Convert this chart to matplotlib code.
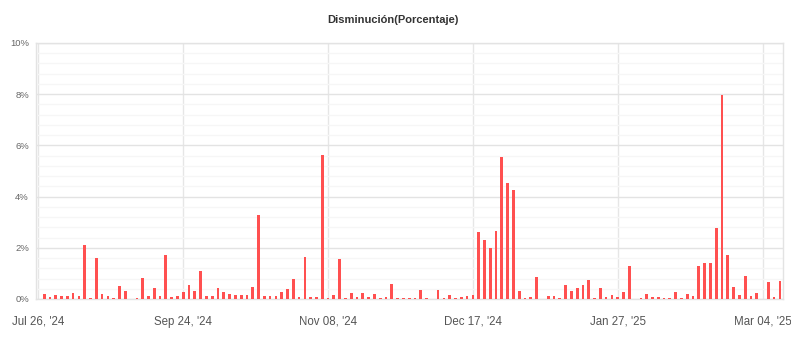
import matplotlib
matplotlib.use("Agg")
import matplotlib.pyplot as plt
import numpy as np

# Daily decrease values (percent), one per category
values = [
    0.00, 0.20, 0.08, 0.16, 0.12, 0.12, 0.23, 0.12, 2.11, 0.04,
    1.60, 0.20, 0.12, 0.04, 0.51, 0.31, 0.00, 0.04, 0.82, 0.12,
    0.43, 0.12, 1.72, 0.08, 0.12, 0.27, 0.55, 0.31, 1.09, 0.12,
    0.12, 0.43, 0.27, 0.20, 0.16, 0.16, 0.16, 0.47, 3.28, 0.12,
    0.12, 0.12, 0.27, 0.39, 0.78, 0.08, 1.64, 0.08, 0.08, 5.63,
    0.04, 0.16, 1.56, 0.04, 0.23, 0.08, 0.23, 0.08, 0.20, 0.04,
    0.08, 0.59, 0.04, 0.04, 0.04, 0.04, 0.35, 0.04, 0.00, 0.35,
    0.04, 0.16, 0.04, 0.08, 0.12, 0.16, 2.62, 2.32, 2.00, 2.67,
    5.55, 4.54, 4.27, 0.31, 0.04, 0.08, 0.87, 0.00, 0.12, 0.12,
    0.04, 0.55, 0.31, 0.43, 0.55, 0.74, 0.04, 0.43, 0.08, 0.16,
    0.08, 0.27, 1.29, 0.00, 0.04, 0.20, 0.08, 0.08, 0.04, 0.04,
    0.27, 0.04, 0.20, 0.12, 1.29, 1.41, 1.41, 2.77, 7.97, 1.72,
    0.47, 0.16, 0.90, 0.12, 0.23, 0.00, 0.66, 0.08, 0.70,
]
tick_labels = ["Jul 26, '24", "Sep 24, '24", "Nov 08, '24",
               "Dec 17, '24", "Jan 27, '25", "Mar 04, '25"]
label_step = 25
y_ticks = [0, 2, 4, 6, 8, 10]
title = "Disminución(Porcentaje)"

plt.rcParams['font.family'] = ['Liberation Sans', 'DejaVu Sans']

W, H = 791, 352
fig = plt.figure(figsize=(W / 100, H / 100), dpi=100)
left_px, right_px, top_px, bot_px = 36, 782.7, 43, 299
ax = fig.add_axes([left_px / W, 1 - bot_px / H,
                   (right_px - left_px) / W, (bot_px - top_px) / H])

x = np.arange(len(values))
ax.bar(x, values, width=0.47, color='#ff5050', zorder=3)

ax.set_xlim(-0.41, 128.48)
ax.set_ylim(0, 10)

ax.set_yticks(y_ticks)
ax.set_yticklabels([f"{t}%" for t in y_ticks])
ax.set_yticks(np.arange(0, 10.01, 0.4), minor=True)

ax.set_xticks(x[::label_step][:len(tick_labels)])
ax.set_xticklabels(tick_labels)

ax.grid(axis='y', which='major', color='#e3e3e3', lw=1, zorder=0)
ax.grid(axis='y', which='minor', color='#f6f6f6', lw=1, zorder=0)
ax.grid(axis='x', which='major', color='#e6e6e6', lw=1, zorder=0)

for s in ax.spines.values():
    s.set_color('#e3e3e3')
    s.set_linewidth(1)

ax.tick_params(axis='both', which='both', length=0)
ax.tick_params(axis='y', labelsize=6.8, labelcolor='#666666', pad=5)
ax.tick_params(axis='x', labelsize=8.3, labelcolor='#555555', pad=12)

fig.text(393 / W, 1 - 20 / H, title, ha='center', va='center',
         fontsize=8, fontweight='bold', color='#333333')

fig.savefig("out.png", dpi=100, facecolor='white')
